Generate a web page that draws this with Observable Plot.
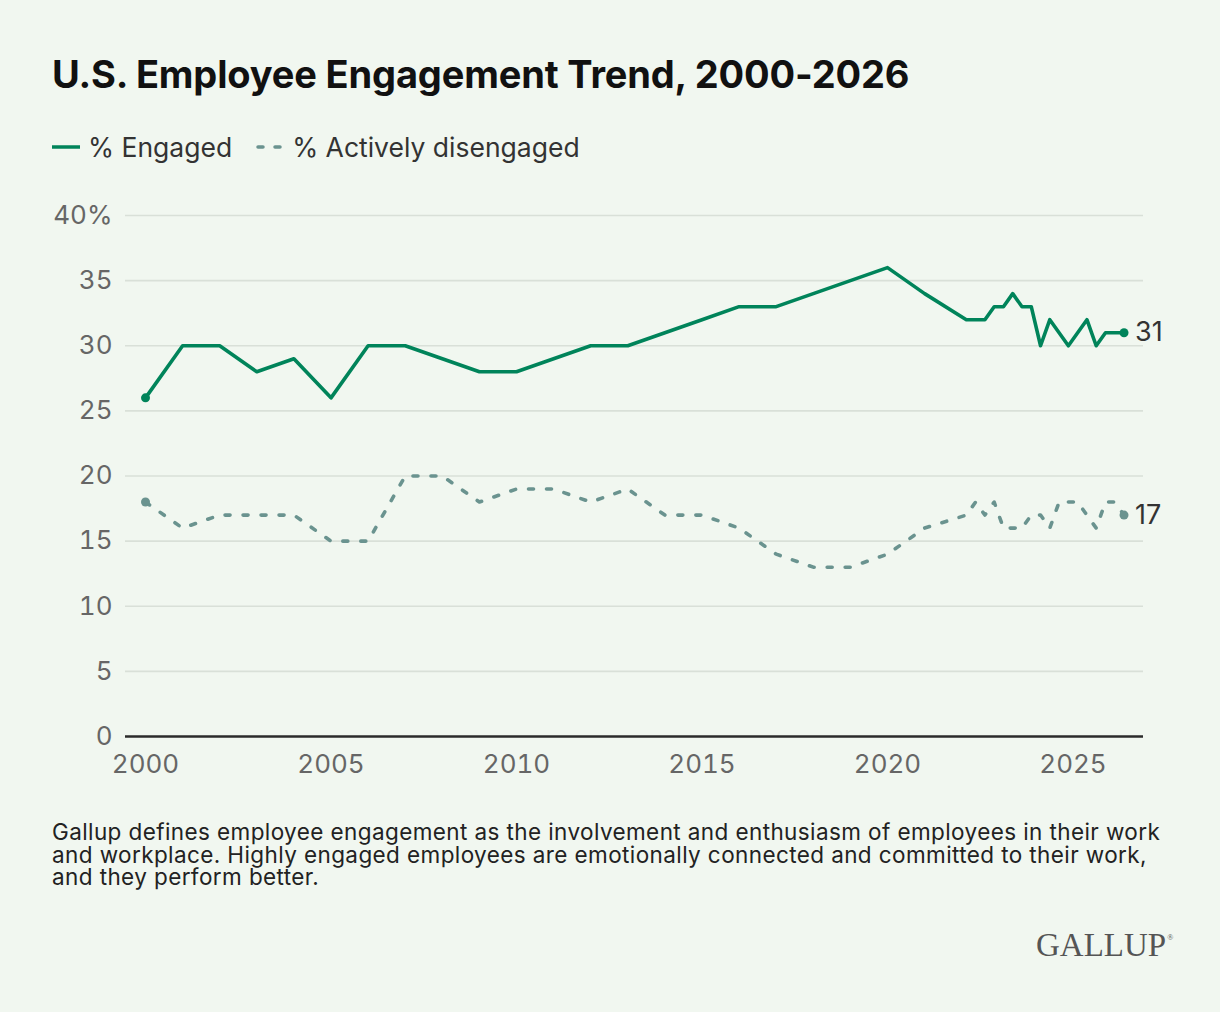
<!DOCTYPE html>
<html>
<head>
<meta charset="utf-8">
<script src="https://cdn.jsdelivr.net/npm/d3@7"></script>
<script src="https://cdn.jsdelivr.net/npm/@observablehq/plot@0.6"></script>
<style>
html,body{margin:0;padding:0;background:#f1f7f0;}
body{width:1220px;height:1012px;position:relative;overflow:hidden;font-family:Inter,"Noto Sans",sans-serif;}
#title{position:absolute;left:52px;top:52px;font-size:38px;font-weight:700;color:#111;letter-spacing:-0.15px;line-height:44px;margin:0;white-space:nowrap;}
#legend{position:absolute;left:52px;top:131px;font-size:26.5px;line-height:32px;color:#333;display:flex;align-items:center;white-space:nowrap;}
#legend .item{display:flex;align-items:center;margin-right:24px;}
#legend svg{margin-right:8px;}
#chart{position:absolute;left:0;top:190px;}
#caption{position:absolute;left:52px;top:821px;font-size:22.5px;letter-spacing:0.4px;line-height:22.5px;color:#222;white-space:nowrap;}
#logo{position:absolute;left:1036px;top:927px;font-family:"Liberation Serif","DejaVu Serif",serif;font-size:33px;line-height:normal;color:#555;white-space:nowrap;}
#logo sup{font-size:8px;vertical-align:top;position:relative;top:6px;margin-left:1px;}
</style>
</head>
<body>
<h1 id="title">U.S. Employee Engagement Trend, 2000-2026</h1>
<div id="legend">
  <div class="item"><svg width="28" height="10"><line x1="0" y1="5" x2="28" y2="5" stroke="#00845a" stroke-width="3.5"/></svg><span>% Engaged</span></div>
  <div class="item"><svg width="28" height="10"><line x1="2" y1="5" x2="26" y2="5" stroke="#6a938f" stroke-width="3.5" stroke-dasharray="5,12" stroke-linecap="round"/></svg><span>% Actively disengaged</span></div>
</div>
<div id="chart"></div>
<div id="caption">Gallup defines employee engagement as the involvement and enthusiasm of employees in their work<br>and workplace. Highly engaged employees are emotionally connected and committed to their work,<br>and they perform better.</div>
<div id="logo">GALLUP<sup>®</sup></div>
<script>
// Annual survey years and values
const years = [2000,2001,2002,2003,2004,2005,2006,2007,2008,2009,2010,2011,2012,2013,2014,2015,2016,2017,2018,2019,2020,2021];
const engagedAnnual =     [26,30,30,28,29,26,30,30,29,28,28,29,30,30,31,32,33,33,34,35,36,34];
const disengagedAnnual =  [18,16,17,17,17,15,15,20,20,18,19,19,18,19,17,17,16,14,13,13,14,16];

// Quarterly readings from 2022
const quarters = ["2022 Q1","2022 Q2","2022 Q3","2022 Q4","2023 Q1","2023 Q2","2023 Q3","2023 Q4","2024 Q1","2024 Q2","2024 Q3","2024 Q4","2025 Q1","2025 Q2","2025 Q3","2025 Q4","2026 Q1","2026 Q2"];
const engagedQuarterly =    [32,32,32,33,33,34,33,33,30,32,31,30,31,32,30,31,31,31];
const disengagedQuarterly = [17,18,17,18,16,16,16,17,17,16,18,18,18,17,16,18,18,17];

const xTicks = [2000,2005,2010,2015,2020,2025];
const yTicks = [0,5,10,15,20,25,30,35,40];

const qTime = q => { const [y, qq] = q.split(" Q"); return +y + (+qq - 1) / 4 + 0.125; };

const engaged = years.map((t,i)=>({t, v: engagedAnnual[i]}))
  .concat(quarters.map((q,i)=>({t: qTime(q), v: engagedQuarterly[i]})));
const disengaged = years.map((t,i)=>({t, v: disengagedAnnual[i]}))
  .concat(quarters.map((q,i)=>({t: qTime(q), v: disengagedQuarterly[i]})));

const green = "#00845a", gray = "#6a938f";

const chart = Plot.plot({
  width: 1220, height: 600,
  marginLeft: 125, marginRight: 77, marginTop: 25, marginBottom: 54,
  style: {background: "transparent", fontFamily: "Inter, 'Noto Sans', sans-serif", fontSize: "26px", color: "#666", overflow: "visible"},
  x: {domain: [2000, 2026.9], insetLeft: 20, ticks: xTicks, tickFormat: d => String(d), tickSize: 0, tickPadding: 18, label: null},
  y: {domain: [0, 40], ticks: yTicks, tickFormat: d => d === 40 ? "40%" : String(d), tickSize: 0, tickPadding: 13, label: null},
  marks: [
    Plot.ruleY(yTicks.filter(d => d > 0), {stroke: "#d9e0d8", strokeWidth: 1.6}),
    Plot.ruleY([0], {stroke: "#2b2b2b", strokeWidth: 2.5}),
    Plot.line(disengaged, {x: "t", y: "v", stroke: gray, strokeWidth: 3.6, strokeDasharray: "5,13", strokeLinecap: "round", strokeLinejoin: "round"}),
    Plot.line(engaged, {x: "t", y: "v", stroke: green, strokeWidth: 3.6, strokeLinejoin: "round"}),
    Plot.dot([engaged[0], engaged[engaged.length-1]], {x: "t", y: "v", r: 4.5, fill: green, stroke: null}),
    Plot.dot([disengaged[0], disengaged[disengaged.length-1]], {x: "t", y: "v", r: 4.5, fill: gray, stroke: null}),
    Plot.text([engaged[engaged.length-1]], {x: "t", y: "v", text: d => String(d.v), dx: 11, textAnchor: "start", fontSize: 27, fill: "#333"}),
    Plot.text([disengaged[disengaged.length-1]], {x: "t", y: "v", text: d => String(d.v), dx: 11, textAnchor: "start", fontSize: 27, fill: "#333"})
  ]
});
document.getElementById("chart").appendChild(chart);
</script>
</body>
</html>
